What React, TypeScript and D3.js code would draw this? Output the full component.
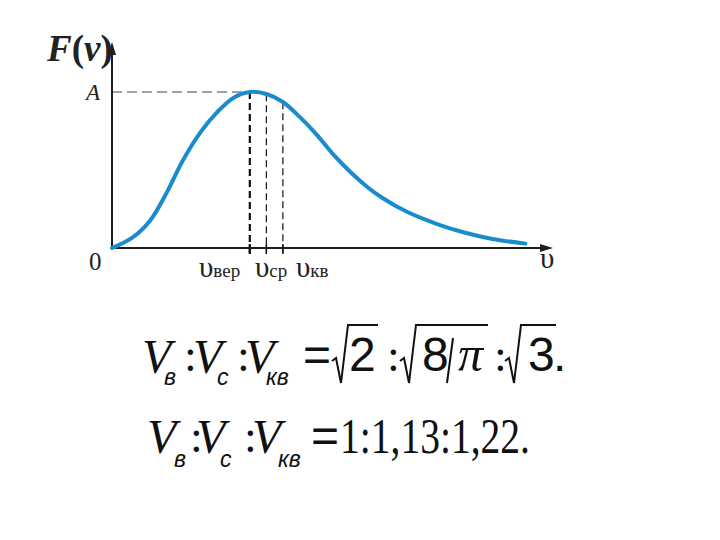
import React from 'react';
import * as d3 from 'd3';

// speed in units of the most probable speed, density in units of A
const speeds = [0, 0.15, 0.28, 0.4, 0.51, 0.64, 0.76, 0.88, 1.0, 1.12, 1.24, 1.36, 1.49, 1.6, 1.73, 1.85, 1.96, 2.14, 2.38, 2.57, 2.76, 3.0];
const density = [0, 0.068, 0.18, 0.36, 0.555, 0.74, 0.868, 0.962, 1.0, 0.987, 0.936, 0.842, 0.722, 0.605, 0.487, 0.393, 0.322, 0.232, 0.147, 0.096, 0.058, 0.028];

const markerSpeeds = [1.0, 1.12, 1.24];
const markerLevels = [1.0, 0.985, 0.935];
const markerNames = ['вер', 'ср', 'кв'];

const ratioText = '1:1,13:1,22.';

const W = 720;
const H = 540;
const SERIF = '"Liberation Serif", "Times New Roman", serif';
const SANS = '"Liberation Sans", Arial, sans-serif';
const CURVE_COLOR = '#1a8ccd';
const AXIS_COLOR = '#1e1e1e';

const radical = (x0: number, top: number, bottom: number, end: number) =>
  `M${x0},${bottom - 22} L${x0 + 4},${bottom - 25} L${x0 + 9},${bottom} L${x0 + 16},${top} L${end},${top}`;

const App = () => {
  const x = d3.scaleLinear().domain([0, 3.2]).range([112, 553]);
  const y = d3.scaleLinear().domain([0, 1]).range([248, 92]);

  const line = d3
    .line<number>()
    .x((_, i) => x(speeds[i]))
    .y((d) => y(d))
    .curve(d3.curveCatmullRom.alpha(0.5));

  const x0 = x(0);
  const y0 = y(0);
  const xEnd = x(3.2);
  const yTop = y(1.32);

  return (
    <svg
      width={W}
      height={H}
      style={{ position: 'absolute', left: 0, top: 0, background: '#fff' }}
    >
      {/* level A */}
      <line
        x1={x0}
        x2={x(markerSpeeds[0])}
        y1={y(1)}
        y2={y(1)}
        stroke="#444"
        strokeWidth={1}
        strokeDasharray="10,5"
      />

      {/* characteristic speeds */}
      {markerSpeeds.map((v, i) => (
        <line
          key={i}
          x1={x(v)}
          x2={x(v)}
          y1={y(markerLevels[i])}
          y2={y0 + 5}
          stroke="#111"
          strokeWidth={i === 0 ? 2.2 : 1.2}
          strokeDasharray="7,4"
        />
      ))}
      {markerSpeeds.map((v, i) => (
        <line
          key={'t' + i}
          x1={x(v)}
          x2={x(v)}
          y1={y0 - 4}
          y2={y0 + 6}
          stroke="#111"
          strokeWidth={i === 0 ? 2.2 : 1.5}
        />
      ))}

      {/* axes */}
      <line x1={x0} x2={xEnd - 8} y1={y0} y2={y0} stroke={AXIS_COLOR} strokeWidth={2} />
      <line x1={x0} x2={x0} y1={y0} y2={yTop + 8} stroke={AXIS_COLOR} strokeWidth={2} />
      <path d={`M${xEnd},${y0} L${xEnd - 13},${y0 - 4} L${xEnd - 13},${y0 + 4} Z`} fill={AXIS_COLOR} />
      <path d={`M${x0},${yTop} L${x0 - 4},${yTop + 13} L${x0 + 4},${yTop + 13} Z`} fill={AXIS_COLOR} />

      {/* distribution curve */}
      <path
        d={line(density) ?? ''}
        fill="none"
        stroke={CURVE_COLOR}
        strokeWidth={4}
        strokeLinecap="round"
      />

      {/* axis labels */}
      <text x={47} y={61} fontFamily={SERIF} fontSize={37} fontWeight="bold" fill="#222">
        <tspan fontStyle="italic">F</tspan>
        <tspan>(</tspan>
        <tspan fontStyle="italic">v</tspan>
        <tspan>)</tspan>
      </text>
      <text x={86} y={100} fontFamily={SERIF} fontSize={23} fontStyle="italic" fill="#222">
        A
      </text>
      <text x={89} y={270} fontFamily={SERIF} fontSize={25} fill="#222">
        0
      </text>
      <text x={540} y={268} fontFamily={SERIF} fontSize={29} fill="#222">
        υ
      </text>
      {markerSpeeds.map((v, i) => (
        <text
          key={'l' + i}
          x={[199, 255, 296][i]}
          y={277}
          fontFamily={SERIF}
          fontSize={29}
          fill="#222"
        >
          υ<tspan fontSize={19}>{markerNames[i]}</tspan>
        </text>
      ))}

      {/* formula 1 */}
      <g fill="#111">
        <text y={373} fontFamily={SERIF} fontSize={48} fontStyle="italic">
          <tspan x={142}>V</tspan>
          <tspan x={193}>V</tspan>
          <tspan x={245}>V</tspan>
        </text>
        <text y={385} fontFamily={SANS} fontSize={23} fontStyle="italic">
          <tspan x={164}>в</tspan>
          <tspan x={217}>с</tspan>
          <tspan x={266}>кв</tspan>
        </text>
        <text y={371} fontFamily={SERIF} fontSize={46}>
          <tspan x={184}>:</tspan>
          <tspan x={237}>:</tspan>
          <tspan x={387}>:</tspan>
          <tspan x={494}>:</tspan>
        </text>
        <text y={371} fontFamily={SANS} fontSize={48}>
          <tspan x={303}>=</tspan>
          <tspan x={349}>2</tspan>
          <tspan x={422}>8</tspan>
          <tspan x={528}>3</tspan>
          <tspan x={553}>.</tspan>
        </text>
        <text x={458} y={371} fontFamily={SERIF} fontSize={50} fontStyle="italic">
          π
        </text>
        <path d={radical(332, 325, 383, 378)} fill="none" stroke="#111" strokeWidth={2} />
        <path d={radical(400, 325, 383, 488)} fill="none" stroke="#111" strokeWidth={2} />
        <path d={radical(505, 325, 383, 556)} fill="none" stroke="#111" strokeWidth={2} />
        <line x1={447} y1={383} x2={453} y2={338} stroke="#111" strokeWidth={2} />
      </g>

      {/* formula 2 */}
      <g fill="#111">
        <text y={453} fontFamily={SERIF} fontSize={48} fontStyle="italic">
          <tspan x={147}>V</tspan>
          <tspan x={196}>V</tspan>
          <tspan x={252}>V</tspan>
        </text>
        <text y={467} fontFamily={SANS} fontSize={23} fontStyle="italic">
          <tspan x={174}>в</tspan>
          <tspan x={220}>с</tspan>
          <tspan x={278}>кв</tspan>
        </text>
        <text y={452} fontFamily={SERIF} fontSize={46}>
          <tspan x={190}>:</tspan>
          <tspan x={244}>:</tspan>
        </text>
        <text x={311} y={452} fontFamily={SANS} fontSize={48}>
          =
        </text>
        <text
          x={340}
          y={453}
          fontFamily={SERIF}
          fontSize={50}
          textLength={190}
          lengthAdjust="spacingAndGlyphs"
        >
          {ratioText}
        </text>
      </g>
    </svg>
  );
};

export default App;
